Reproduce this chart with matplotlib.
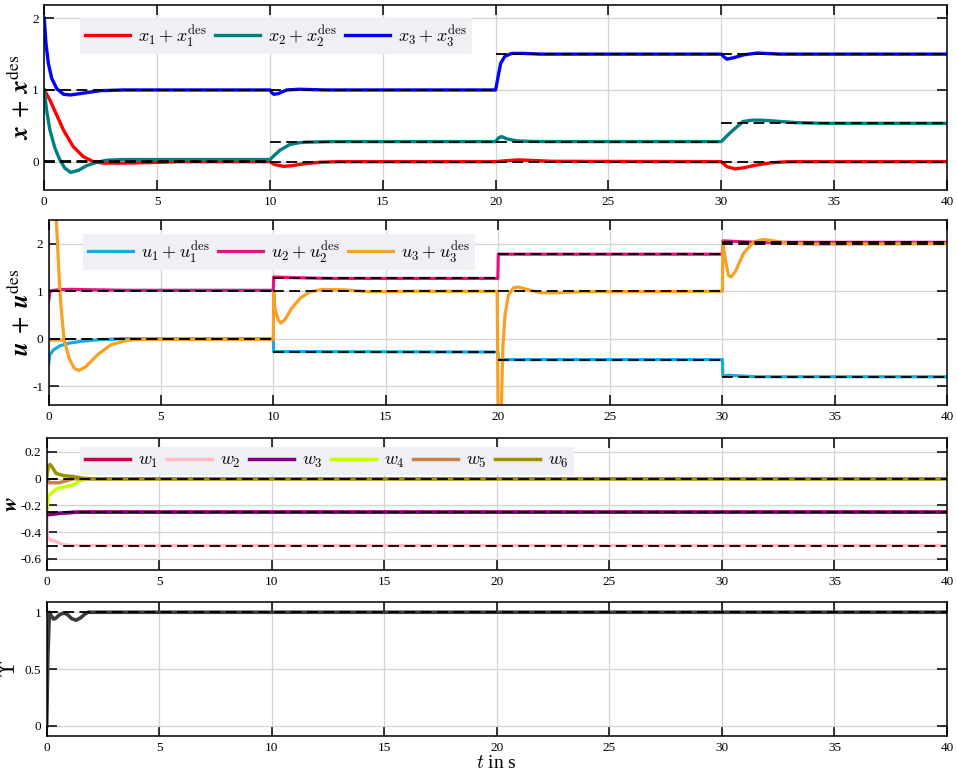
import numpy as np
import matplotlib
matplotlib.use("Agg")
import matplotlib.pyplot as plt
from matplotlib.ticker import FuncFormatter

plt.rcParams['font.family'] = ['Liberation Serif', 'DejaVu Serif']
plt.rcParams['mathtext.fontset'] = 'cm'
plt.rcParams['axes.unicode_minus'] = False

nan = np.nan

# step times of the desired values
t_steps = [0, 10, 20, 30, 40]

# panel 1: states
x1_t = [0, 0.25, 0.55, 0.85, 1.28, 1.73, 2.17, 2.6, 3.5, 5, 6,
        10, 10.2, 10.6, 11.0, 11.5, 12.2, 13,
        20, 20.4, 21.0, 21.6, 22.5,
        30, 30.25, 30.6, 31.0, 31.5, 32.2, 33, 40]
x1_y = [1.0, 0.86, 0.65, 0.44, 0.21, 0.07, 0.0, -0.02, -0.02, -0.01, 0,
        0, -0.04, -0.065, -0.055, -0.03, -0.008, 0,
        0, 0.012, 0.025, 0.018, 0.005,
        0, -0.07, -0.10, -0.085, -0.05, -0.015, 0, 0]
x2_t = [0, 0.1, 0.25, 0.47, 0.69, 0.91, 1.17, 1.51, 1.88, 2.32, 2.76, 3.5,
        10, 10.2, 10.44, 10.88, 11.3, 11.62, 12.8,
        20, 20.12, 20.26, 20.48, 20.92, 21.5, 22.25,
        30, 30.25, 30.52, 30.96, 31.4, 31.8, 32.2, 33.3, 34.5, 40]
x2_y = [1.0, 0.72, 0.44, 0.19, 0.025, -0.09, -0.15, -0.12, -0.055, -0.01, 0.02, 0.03,
        0.03, 0.09, 0.16, 0.24, 0.265, 0.272, 0.28,
        0.28, 0.33, 0.35, 0.32, 0.29, 0.283, 0.28,
        0.28, 0.36, 0.44, 0.56, 0.58, 0.578, 0.57, 0.545, 0.535, 0.535]
x3_t = [0, 0.07, 0.18, 0.33, 0.55, 0.85, 1.15, 1.59, 2.48, 3.5,
        10, 10.08, 10.17, 10.37, 10.74, 11.3, 12.5,
        20, 20.11, 20.22, 20.41, 20.71, 21.22, 22,
        30, 30.12, 30.25, 30.55, 30.99, 31.58, 32.6, 40]
x3_y = [2.0, 1.66, 1.37, 1.16, 1.02, 0.94, 0.93, 0.95, 0.99, 1.0,
        1.0, 0.96, 0.94, 0.95, 1.0, 1.01, 1.0,
        1.0, 1.19, 1.37, 1.47, 1.51, 1.51, 1.5,
        1.5, 1.46, 1.43, 1.45, 1.49, 1.515, 1.5, 1.5]
x1_des = [0, 0, 0, 0]
x2_des = [0.015, 0.27, 0.28, 0.535]
x3_des = [1.0, 1.0, 1.5, 1.5]

# panel 2: inputs
u1_t = [0, 0.05, 0.2, 0.49, 0.94, 1.53, 2.27, 3.2, 10, 10.02, 20, 20.02,
        30, 30.02, 30.3, 31.5, 40]
u1_y = [-0.52, -0.34, -0.24, -0.15, -0.09, -0.05, -0.02, 0, 0, -0.27, -0.28, -0.44,
        -0.44, -0.78, -0.77, -0.80, -0.80]
u2_t = [0, 0.04, 0.1, 0.5, 1.0, 2.0, 3.5, 10, 10.02, 11, 12.5, 20, 20.02,
        30, 30.02, 30.5, 31.5, 40]
u2_y = [0.80, 0.97, 1.01, 1.035, 1.04, 1.03, 1.02, 1.02, 1.30, 1.285, 1.27, 1.27, 1.78,
        1.78, 2.06, 2.05, 2.03, 2.03]
u3_t = [0, 0.6, nan,
        0, 0.15, 0.34, 0.49, 0.58, 0.69, 0.91, 1.13, 1.35, 1.65, 2.17, 2.76, 3.5, 4.5,
        10, 10.02, 10.07, 10.22, 10.33, 10.52, 10.82, 11.19, 11.63, 12.23, 13.1, 14.3, 16,
        19.97, 20.03, 20.1, 20.16, 20.22, 20.32, 20.47, 20.69, 20.91, 21.29, 21.88, 22.62, 23.7,
        30, 30.02, 30.13, 30.27, 30.38, 30.57, 30.94, 31.39, 31.83, 32.28, 32.87, 34, 40]
u3_y = [-0.03, -0.03, nan,
        9.0, 5.0, 2.5, 1.06, 0.5, -0.03, -0.41, -0.62, -0.67, -0.59, -0.34, -0.13, -0.03, -0.01,
        -0.01, 0.99, 0.64, 0.40, 0.33, 0.40, 0.64, 0.85, 0.99, 1.04, 1.03, 0.99, 1.0,
        1.0, -3.0, -3.2, -1.4, -0.2, 0.5, 0.92, 1.07, 1.09, 1.04, 0.97, 0.97, 0.99,
        1.0, 2.04, 1.66, 1.34, 1.30, 1.41, 1.8, 2.04, 2.09, 2.06, 2.01, 1.99, 2.0]
u1_des = [0, -0.28, -0.44, -0.80]
u2_des = [1.0, 1.27, 1.78, 2.03]
u3_des = [0, 1.0, 1.0, 2.0]

# panel 3: weights
w1_t = [0, 0.05, 0.3, 0.8, 1.5, 40]
w1_y = [-0.25, -0.265, -0.262, -0.255, -0.25, -0.25]
w2_t = [0, 0.02, 0.05, 0.18, 0.42, 0.74, 1.1, 40]
w2_y = [-0.25, -0.40, -0.44, -0.46, -0.47, -0.495, -0.50, -0.50]
w3_t = [0, 0.07, 0.27, 0.74, 1.3, 40]
w3_y = [-0.25, -0.27, -0.265, -0.256, -0.25, -0.25]
w4_t = [0, 0.07, 0.27, 0.42, 0.74, 1.18, 1.48, 1.78, 40]
w4_y = [-0.25, -0.13, -0.10, -0.077, -0.064, -0.047, -0.015, 0, 0]
w5_t = [0, 0.12, 0.57, 0.86, 1.2, 40]
w5_y = [0, -0.03, -0.03, -0.015, 0, 0]
w6_t = [0, 0.07, 0.15, 0.27, 0.42, 0.74, 1.18, 1.63, 2.0, 40]
w6_y = [0, 0.09, 0.107, 0.08, 0.04, 0.023, 0.016, 0.003, 0, 0]
w_des = [0, -0.25, -0.5]

# panel 4: upsilon
ups_t = [0, 0.05, 0.12, 0.2, 0.3, 0.42, 0.55, 0.7, 0.82, 0.95, 1.1, 1.3, 1.5, 1.7, 1.85, 2.1, 40]
ups_y = [0, 0.6, 1.0, 0.97, 0.94, 0.95, 0.975, 0.99, 0.99, 0.975, 0.945, 0.93, 0.95, 0.985, 1.0, 1.0, 1.0]
ups_des = 1.0

x_ticks = [0, 5, 10, 15, 20, 25, 30, 35, 40]

W, H = 957, 773
fig = plt.figure(figsize=(W / 100, H / 100), dpi=100)


def add_ax(left, top, right, bottom):
    return fig.add_axes([left / W, 1 - bottom / H, (right - left) / W, (bottom - top) / H])


ax1 = add_ax(44.3, 5, 947, 190)
ax2 = add_ax(48.7, 220, 947, 405)
ax3 = add_ax(46.7, 437.7, 947, 570)
ax4 = add_ax(46.7, 602, 947, 736)

dash_kw = dict(color='black', lw=1.3, linestyle=(0, (6, 3)), zorder=5)
leg_kw = dict(loc='upper left', frameon=True, fancybox=False, facecolor='#eff0f3',
              edgecolor='none', framealpha=1, fontsize=13, handlelength=2.5,
              handletextpad=0.45, columnspacing=0.45, borderaxespad=0, borderpad=0.28)


def style(ax, ylim, yticks):
    ax.set_xlim(0, 40)
    ax.set_ylim(*ylim)
    ax.set_xticks(x_ticks)
    ax.set_yticks(yticks)
    ax.yaxis.set_major_formatter(FuncFormatter(lambda v, pos: '%g' % v))
    ax.grid(True, color='#d4d4d4', lw=0.9)
    ax.set_axisbelow(True)
    ax.tick_params(direction='in', length=7.5, width=1.1, top=True, right=True,
                   labelsize=9.5, pad=4, color='black')
    for s in ax.spines.values():
        s.set_linewidth(1.1)
        s.set_color('black')


# panel 1
ax = ax1
ax.plot(x1_t, x1_y, color='#ff0000', lw=2.4, label=r'$x_1 + x_1^{\mathrm{des}}$')
ax.plot(x2_t, x2_y, color='#008080', lw=2.4, label=r'$x_2 + x_2^{\mathrm{des}}$')
ax.plot(x3_t, x3_y, color='#0000ff', lw=2.4, label=r'$x_3 + x_3^{\mathrm{des}}$')
for des in [x1_des, x2_des, x3_des]:
    ax.hlines(des, t_steps[:-1], t_steps[1:], **dash_kw)
style(ax, (-0.395, 2.185), [0, 1, 2])
ax.legend(ncol=3, bbox_to_anchor=(0.0395, 0.93), **leg_kw)
ax.set_ylabel(r'$\mathbfit{x}\;+\;\mathbfit{x}^{\mathrm{des}}$', fontsize=18,
              math_fontfamily='stix')
ax.yaxis.set_label_coords(-0.0115, 0.5)

# panel 2
ax = ax2
ax.plot(u1_t, u1_y, color='#17a9e6', lw=2.3, label=r'$u_1 + u_1^{\mathrm{des}}$')
ax.plot(u2_t, u2_y, color='#e6127f', lw=2.3, label=r'$u_2 + u_2^{\mathrm{des}}$')
ax.plot(u3_t, u3_y, color='#f7a023', lw=2.3, label=r'$u_3 + u_3^{\mathrm{des}}$')
for des in [u1_des, u2_des, u3_des]:
    ax.hlines(des, t_steps[:-1], t_steps[1:], **dash_kw)
style(ax, (-1.395, 2.5), [-1, 0, 1, 2])
ax.legend(ncol=3, bbox_to_anchor=(0.038, 0.924), **leg_kw)
ax.set_ylabel(r'$\mathbfit{u}\;+\;\mathbfit{u}^{\mathrm{des}}$', fontsize=18,
              math_fontfamily='stix')
ax.yaxis.set_label_coords(-0.0165, 0.5)

# panel 3
ax = ax3
w_colors = ['#c8004b', '#ffbcc4', '#800080', '#c6ff00', '#c8834a', '#9b9100']
w_ts = [w1_t, w2_t, w3_t, w4_t, w5_t, w6_t]
w_ys = [w1_y, w2_y, w3_y, w4_y, w5_y, w6_y]
for i in range(6):
    ax.plot(w_ts[i], w_ys[i], color=w_colors[i], lw=2.5, label=r'$w_{%d}$' % (i + 1))
ax.hlines(w_des, 0, 40, **dash_kw)
style(ax, (-0.683, 0.307), [-0.6, -0.4, -0.2, 0, 0.2])
ax.legend(ncol=6, bbox_to_anchor=(0.037, 0.93), **leg_kw)
ax.set_ylabel(r'$\mathbfit{w}$', fontsize=16, math_fontfamily='stix')
ax.yaxis.set_label_coords(-0.0275, 0.5)

# panel 4
ax = ax4
ax.plot(ups_t, ups_y, color='#3c3c3c', lw=2.6)
ax.hlines(ups_des, 0, 40, **dash_kw)
style(ax, (-0.088, 1.09), [0, 0.5, 1])
ax.set_ylabel(r'$\mathbf{\Upsilon}$', fontsize=16)
ax.yaxis.set_label_coords(-0.029, 0.5)
ax.set_xlabel(r'$t$ in s', fontsize=14, labelpad=1)

fig.savefig("out.png", dpi=100)
